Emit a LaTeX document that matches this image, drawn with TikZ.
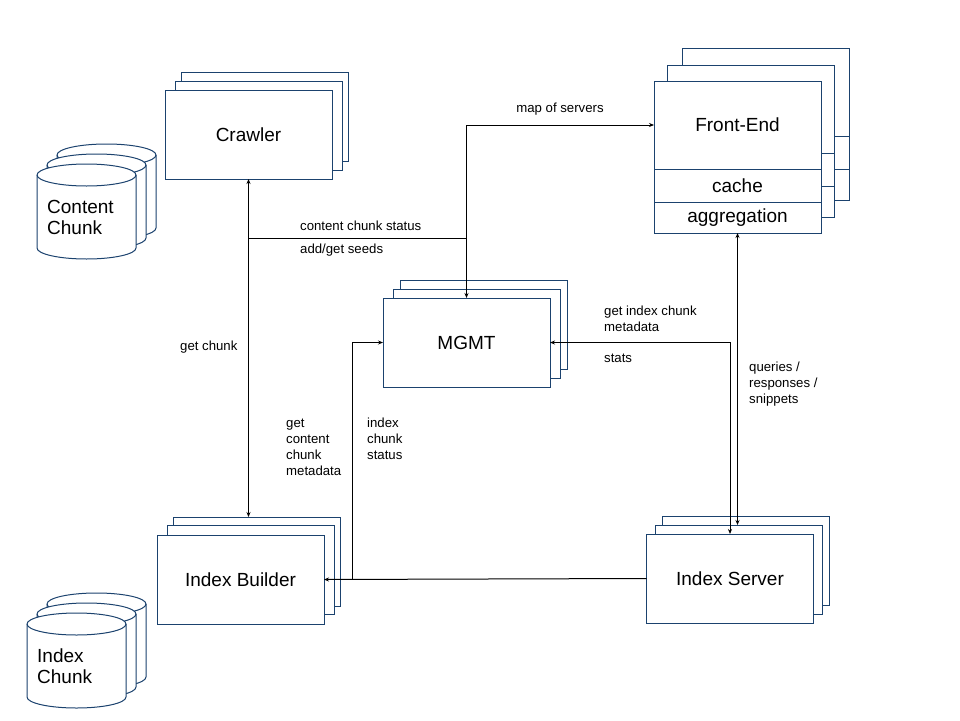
\documentclass[tikz,border=0pt]{standalone}
\usepackage{fontspec}
\setmainfont{Liberation Sans}
\usetikzlibrary{positioning,arrows.meta}

\definecolor{unitblue}{HTML}{1B426E}

\tikzset{
  pics/drum/.style={code={
    \path[draw=unitblue,fill=white,line width=1pt] (-49.5,0) -- (-49.5,73)
      arc[start angle=180,end angle=360,x radius=49.5pt,y radius=11pt] -- (49.5,0)
      arc[start angle=0,end angle=180,x radius=49.5pt,y radius=11pt] -- cycle;
    \draw[unitblue,line width=1pt] (-49.5,0)
      arc[start angle=180,end angle=360,x radius=49.5pt,y radius=11pt];
  }}
}

\begin{document}
\begin{tikzpicture}[x=1pt,y=-1pt,
    unit/.style={draw=unitblue,fill=white,line width=1pt,minimum width=167pt,
      minimum height=89pt,inner sep=0pt,outer sep=0pt,font=\fontsize{19}{22}\selectfont},
    fepart/.style={unit,minimum height=#1},
    lbl/.style={font=\fontsize{13.2}{16}\selectfont,inner sep=0pt,align=left},
    store/.style={font=\fontsize{19}{21}\selectfont,inner sep=0pt,align=left,anchor=west},
    >={Stealth[length=5pt,width=4pt]}]

  \useasboundingbox (0,0) rectangle (960,720);

  % data stores
  \foreach \dx/\dy in {20/-20,10/-10,0/0} {
    \pic at (86.5+\dx,175+\dy) {drum};
    \pic at (76.5+\dx,624+\dy) {drum};
  }
  \node[store] (cchunk) at (47,217.5) {Content\\Chunk};
  \node[store] (ichunk) at (37,666.5) {Index\\Chunk};

  % crawler
  \coordinate (crawlpos) at (248.5,134.5);
  \foreach \dx/\dy/\k in {16/-18/3,10/-9/2}
    \node[unit] (crawl\k) at ([shift={(\dx,\dy)}]crawlpos) {};
  \node[unit] (crawl) at (crawlpos) {Crawler};

  % mgmt
  \coordinate (mgmtpos) at (466.5,342.5);
  \foreach \dx/\dy/\k in {17/-18/3,10/-9/2}
    \node[unit] (mgmt\k) at ([shift={(\dx,\dy)}]mgmtpos) {};
  \node[unit] (mgmt) at (mgmtpos) {MGMT};

  % index builder
  \coordinate (ibldpos) at (240.5,579.5);
  \foreach \dx/\dy/\k in {16/-18/3,10/-10/2}
    \node[unit] (ibld\k) at ([shift={(\dx,\dy)}]ibldpos) {};
  \node[unit] (ibld) at (ibldpos) {Index Builder};

  % index server
  \coordinate (isrvpos) at (730,578.5);
  \foreach \dx/\dy/\k in {16/-18/3,9/-9/2}
    \node[unit] (isrv\k) at ([shift={(\dx,\dy)}]isrvpos) {};
  \node[unit] (isrv) at (isrvpos) {Index Server};

  % front-end
  \coordinate (fepos) at (737.5,125);
  \foreach \dx/\dy/\k in {28/-33/3,13/-16/2} {
    \node[fepart=88pt] (fetop\k) at ([shift={(\dx,\dy)}]fepos) {};
    \node[fepart=33pt,below=0pt of fetop\k] (fecache\k) {};
    \node[fepart=31pt,below=0pt of fecache\k] (feagg\k) {};
  }
  \node[fepart=88pt] (fetop) at (fepos) {Front-End};
  \node[fepart=33pt,below=0pt of fetop] (fecache) {cache};
  \node[fepart=31pt,below=0pt of fecache] (feagg) {aggregation};

  % connectors
  \begin{scope}[line width=1pt]
    \draw[<->] (crawl.south) -- (crawl.south |- ibld3.north);
    \coordinate (seedjoin) at (crawl.south |- 0,238);
    \draw (seedjoin) -- (mgmt.north |- seedjoin);
    \draw[<->] (mgmt.north) |- (fetop.west);
    \draw[<->] (mgmt.east) -| (isrv.north);
    \draw[<->] (feagg.south) -- (feagg.south |- isrv2.north);
    \draw[->] (isrv.west) -- (ibld.east);
    \coordinate (statjoin) at ([xshift=28pt]ibld.east);
    \draw[->] (statjoin) |- (mgmt.west);
  \end{scope}

  % labels
  \node[lbl,anchor=west] (lstatus) at (300,226) {content chunk status};
  \node[lbl,anchor=west] (lseeds) at (300,250) {add/get seeds};
  \node[lbl] (lmap) at (560,109) {map of servers};
  \node[lbl,anchor=west] (lchunk) at (180,347) {get chunk};
  \node[lbl,anchor=west] (lidxmeta) at (604,319) {get index chunk\\metadata};
  \node[lbl,anchor=west] (lstats) at (604,358) {stats};
  \node[lbl,anchor=west] (lquery) at (749,384) {queries /\\responses /\\snippets};
  \node[lbl,anchor=west] (lcmeta) at (286,447) {get\\content\\chunk\\metadata};
  \node[lbl,anchor=west] (lixstat) at (367,439) {index\\chunk\\status};

\end{tikzpicture}
\end{document}
